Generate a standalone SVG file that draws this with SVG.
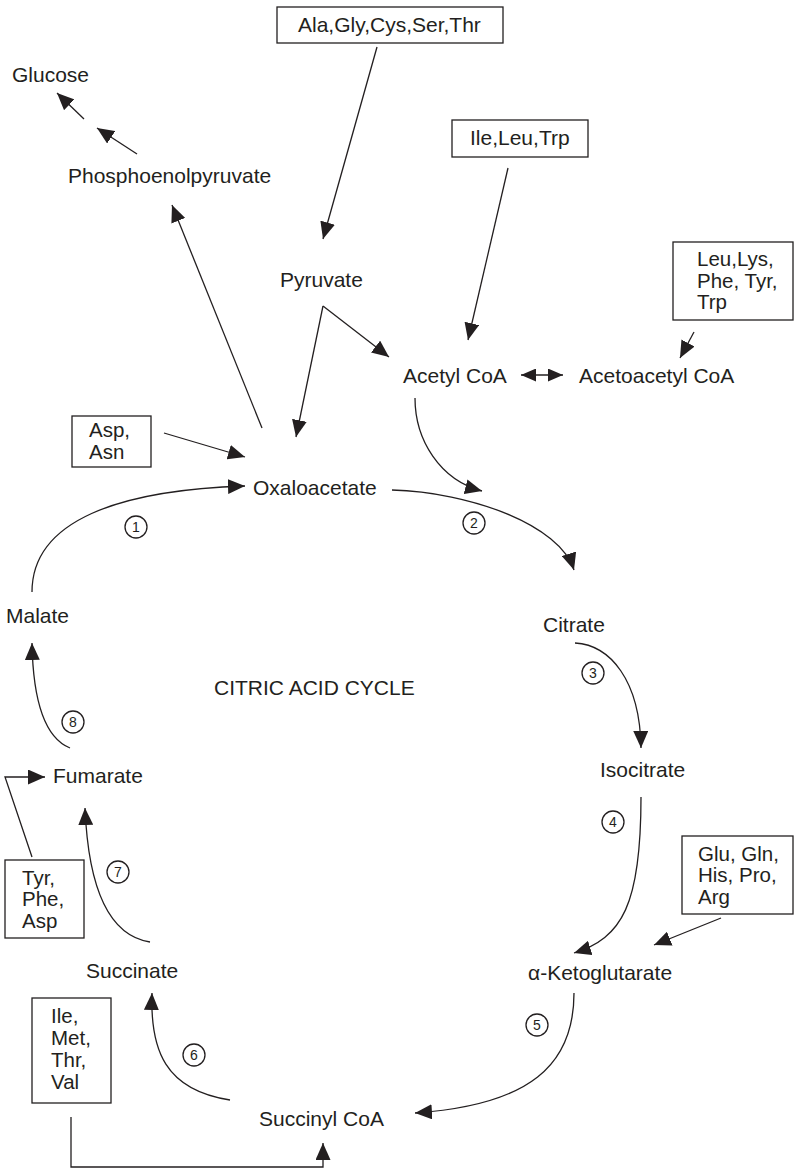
<svg xmlns="http://www.w3.org/2000/svg" width="796" height="1170" viewBox="0 0 796 1170">
<style>
text{font-family:"Liberation Sans",Arial,sans-serif;font-size:21px;fill:#231f20}
.m{font-size:20.5px}
.n{font-size:14px;text-anchor:middle}
.c{fill:none;stroke:#231f20;stroke-width:1.3}
.a{fill:none;stroke:#231f20;stroke-width:1.3;marker-end:url(#ah)}
.box{fill:#fff;stroke:#231f20;stroke-width:1.3}
</style>
<defs>
<marker id="ah" markerUnits="userSpaceOnUse" markerWidth="17" markerHeight="15" refX="17" refY="7.5" orient="auto" viewBox="0 0 17 15"><path d="M0,0 L17,7.5 L0,15 z" fill="#231f20"/></marker>
<marker id="sh" markerUnits="userSpaceOnUse" markerWidth="15" markerHeight="13" refX="15" refY="6.5" orient="auto-start-reverse" viewBox="0 0 15 13"><path d="M0,0 L15,6.5 L0,13 z" fill="#231f20"/></marker>
</defs>
<g id="connectors">
<line class="a" x1="84" y1="119" x2="57" y2="93"/>
<line class="a" x1="137" y1="154" x2="97" y2="128"/>
<line class="a" x1="377" y1="47" x2="323" y2="239"/>
<line class="a" x1="323" y1="306" x2="389" y2="357"/>
<line class="a" x1="323" y1="306" x2="296" y2="437"/>
<line class="a" x1="262" y1="428" x2="172" y2="205"/>
<line class="a" x1="508" y1="168" x2="468" y2="340"/>
<line class="a" x1="694" y1="332" x2="680" y2="358"/>
<line class="c" x1="521" y1="375" x2="563" y2="375" marker-start="url(#sh)" marker-end="url(#sh)"/>
<line class="a" x1="164" y1="433" x2="245" y2="457"/>
<path class="a" d="M415,398 C415,440 440,480 482,491"/>
<path class="a" d="M32,592 C32,520 120,490 245,486"/>
<path class="a" d="M392,490 C470,492 560,525 574,570"/>
<path class="a" d="M575,643 C610,645 640,680 641,748"/>
<path class="a" d="M641,797 C641,905 622,938 574,953"/>
<line class="a" x1="721" y1="918" x2="654" y2="945"/>
<path class="a" d="M574,993 C574,1065 530,1105 415,1113"/>
<path class="a" d="M230,1100 C165,1090 150,1050 152,993"/>
<path class="a" d="M150,942 C105,935 88,880 85,808"/>
<path class="a" d="M70,748 C45,738 33,700 32,643"/>
<polyline class="a" points="32,857 5,777 45,777"/>
<polyline class="a" points="71,1117 71,1167 323,1167 323,1143"/>
</g>
<g id="glucose"><text x="12" y="82">Glucose</text></g>
<g id="pep"><text x="68" y="183">Phosphoenolpyruvate</text></g>
<g id="box-ala"><rect class="box" x="277" y="7" width="226" height="36"/><text x="298" y="32">Ala,Gly,Cys,Ser,Thr</text></g>
<g id="box-ile-leu-trp"><rect class="box" x="452" y="120" width="136" height="37"/><text x="470" y="145">Ile,Leu,Trp</text></g>
<g id="box-leu-lys"><rect class="box" x="673" y="242" width="120" height="78"/><text class="m"><tspan x="697" y="266">Leu,Lys,</tspan><tspan x="697" y="287.5">Phe, Tyr,</tspan><tspan x="697" y="309">Trp</tspan></text></g>
<g id="pyruvate"><text x="280" y="287">Pyruvate</text></g>
<g id="acetylcoa"><text x="403" y="383">Acetyl CoA</text></g>
<g id="acetoacetylcoa"><text x="579" y="383">Acetoacetyl CoA</text></g>
<g id="box-asp-asn"><rect class="box" x="72" y="416" width="79" height="51"/><text class="m"><tspan x="89" y="437">Asp,</tspan><tspan x="89" y="458.5">Asn</tspan></text></g>
<g id="oxaloacetate"><text x="253" y="495">Oxaloacetate</text></g>
<g id="citrate"><text x="543" y="632">Citrate</text></g>
<g id="malate"><text x="6" y="623">Malate</text></g>
<g id="title"><text x="214" y="695">CITRIC ACID CYCLE</text></g>
<g id="isocitrate"><text x="600" y="777">Isocitrate</text></g>
<g id="fumarate"><text x="53" y="783">Fumarate</text></g>
<g id="box-tyr-phe-asp"><rect class="box" x="5" y="860" width="79" height="78"/><text class="m"><tspan x="22" y="884.5">Tyr,</tspan><tspan x="22" y="906">Phe,</tspan><tspan x="22" y="927.5">Asp</tspan></text></g>
<g id="box-glu"><rect class="box" x="682" y="836" width="111" height="78"/><text class="m"><tspan x="698" y="860.5">Glu, Gln,</tspan><tspan x="698" y="882">His, Pro,</tspan><tspan x="698" y="903.5">Arg</tspan></text></g>
<g id="succinate"><text x="86" y="978">Succinate</text></g>
<g id="akg"><text x="528" y="980">α-Ketoglutarate</text></g>
<g id="box-ile-met"><rect class="box" x="32" y="998" width="79" height="105"/><text class="m"><tspan x="51" y="1023">Ile,</tspan><tspan x="51" y="1045">Met,</tspan><tspan x="51" y="1067">Thr,</tspan><tspan x="51" y="1088.5">Val</tspan></text></g>
<g id="succinylcoa"><text x="259" y="1126">Succinyl CoA</text></g>
<g id="steps">
<circle class="c" cx="136" cy="527" r="11"/><text class="n" x="136" y="532">1</text>
<circle class="c" cx="474" cy="523" r="11"/><text class="n" x="474" y="528">2</text>
<circle class="c" cx="593" cy="673" r="11"/><text class="n" x="593" y="678">3</text>
<circle class="c" cx="613" cy="822" r="11"/><text class="n" x="613" y="827">4</text>
<circle class="c" cx="537" cy="1025" r="11"/><text class="n" x="537" y="1030">5</text>
<circle class="c" cx="194" cy="1055" r="11"/><text class="n" x="194" y="1060">6</text>
<circle class="c" cx="118" cy="872" r="11"/><text class="n" x="118" y="877">7</text>
<circle class="c" cx="73" cy="722" r="11"/><text class="n" x="73" y="727">8</text>
</g>
</svg>
